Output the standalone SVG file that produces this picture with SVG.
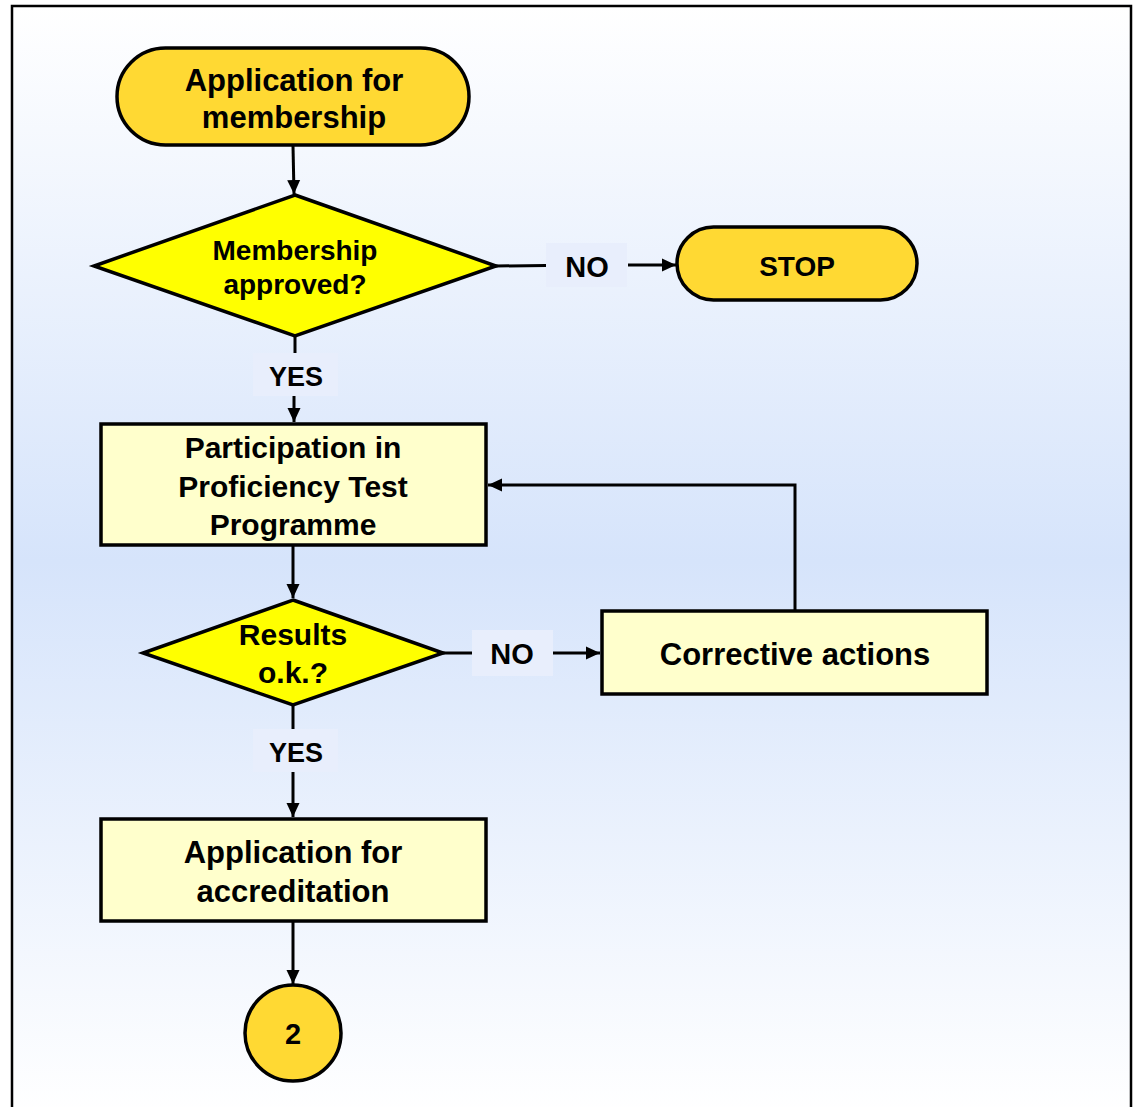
<svg xmlns="http://www.w3.org/2000/svg" width="1136" height="1107" viewBox="0 0 1136 1107">
<defs>
<linearGradient id="bg" x1="0" y1="0" x2="0" y2="1">
<stop offset="0" stop-color="#FFFFFF"/>
<stop offset="0.5" stop-color="#D6E4FB"/>
<stop offset="1" stop-color="#FFFFFF"/>
</linearGradient>
<marker id="arr" viewBox="0 0 14 14" refX="14" refY="7" markerWidth="14" markerHeight="14" markerUnits="userSpaceOnUse" orient="auto">
<path d="M0,0.5 L14,7 L0,13.5 Z" fill="#000"/>
</marker>
<style>
.term{fill:#FFD933;stroke:#000;stroke-width:3.5}
.dec{fill:#FFFF00;stroke:#000;stroke-width:3.5}
.box{fill:#FFFFCC;stroke:#000;stroke-width:3.5}
.lbl{fill:#E8EEFC}
.con{fill:none;stroke:#000;stroke-width:3}
text{font-family:"Liberation Sans",Arial,sans-serif;font-weight:bold;fill:#000;text-anchor:middle}
</style>
</defs>
<rect x="0" y="0" width="1136" height="1107" fill="#FFFFFF"/>
<rect x="12" y="6" width="1119" height="1110" fill="url(#bg)" stroke="#000" stroke-width="2.5"/>

<g id="connectors">
<line class="con" x1="293" y1="146" x2="294" y2="194" marker-end="url(#arr)"/>
<line class="con" x1="496" y1="266" x2="546" y2="265.5"/>
<line class="con" x1="628" y1="265" x2="676" y2="265" marker-end="url(#arr)"/>
<line class="con" x1="295" y1="337" x2="295" y2="353"/>
<line class="con" x1="294" y1="396" x2="294" y2="422" marker-end="url(#arr)"/>
<line class="con" x1="293" y1="546" x2="293" y2="598" marker-end="url(#arr)"/>
<line class="con" x1="443" y1="653" x2="472" y2="653"/>
<line class="con" x1="553" y1="653" x2="600" y2="653" marker-end="url(#arr)"/>
<polyline class="con" points="795,610 795,485 488,485" marker-end="url(#arr)"/>
<line class="con" x1="293" y1="706" x2="293" y2="729"/>
<line class="con" x1="293" y1="772" x2="293" y2="817" marker-end="url(#arr)"/>
<line class="con" x1="293" y1="922" x2="293" y2="984" marker-end="url(#arr)"/>
</g>

<g id="label-no1"><rect class="lbl" x="546" y="243" width="81" height="44"/><text x="587" y="277" font-size="29">NO</text></g>
<g id="label-yes1"><rect class="lbl" x="253" y="353" width="85" height="43"/><text x="296" y="386" font-size="27">YES</text></g>
<g id="label-no2"><rect class="lbl" x="472" y="630" width="81" height="46"/><text x="512" y="664" font-size="29">NO</text></g>
<g id="label-yes2"><rect class="lbl" x="253" y="729" width="85" height="43"/><text x="296" y="762" font-size="27">YES</text></g>

<g id="start">
<rect class="term" x="117" y="48" width="352" height="97" rx="48.5"/>
<text x="294" y="91" font-size="31">Application for</text>
<text x="294" y="128" font-size="31">membership</text>
</g>

<g id="decision-membership">
<polygon class="dec" points="295,195 496,266 295,336 94,266"/>
<text x="295" y="260" font-size="28">Membership</text>
<text x="295" y="294" font-size="28">approved?</text>
</g>

<g id="stop">
<rect class="term" x="677" y="227" width="240" height="73" rx="36.5"/>
<text x="797" y="276" font-size="28">STOP</text>
</g>

<g id="participation">
<rect class="box" x="101" y="424" width="385" height="121"/>
<text x="293" y="458" font-size="30">Participation in</text>
<text x="293" y="497" font-size="30">Proficiency Test</text>
<text x="293" y="535" font-size="30">Programme</text>
</g>

<g id="decision-results">
<polygon class="dec" points="293,600 443,653 293,705 143,653"/>
<text x="293" y="645" font-size="30">Results</text>
<text x="293" y="683" font-size="30">o.k.?</text>
</g>

<g id="corrective">
<rect class="box" x="602" y="611" width="385" height="83"/>
<text x="795" y="665" font-size="31">Corrective actions</text>
</g>

<g id="accreditation">
<rect class="box" x="101" y="819" width="385" height="102"/>
<text x="293" y="863" font-size="31">Application for</text>
<text x="293" y="902" font-size="31">accreditation</text>
</g>

<g id="connector-2">
<circle class="term" cx="293" cy="1033" r="48"/>
<text x="293" y="1044" font-size="29">2</text>
</g>
</svg>
